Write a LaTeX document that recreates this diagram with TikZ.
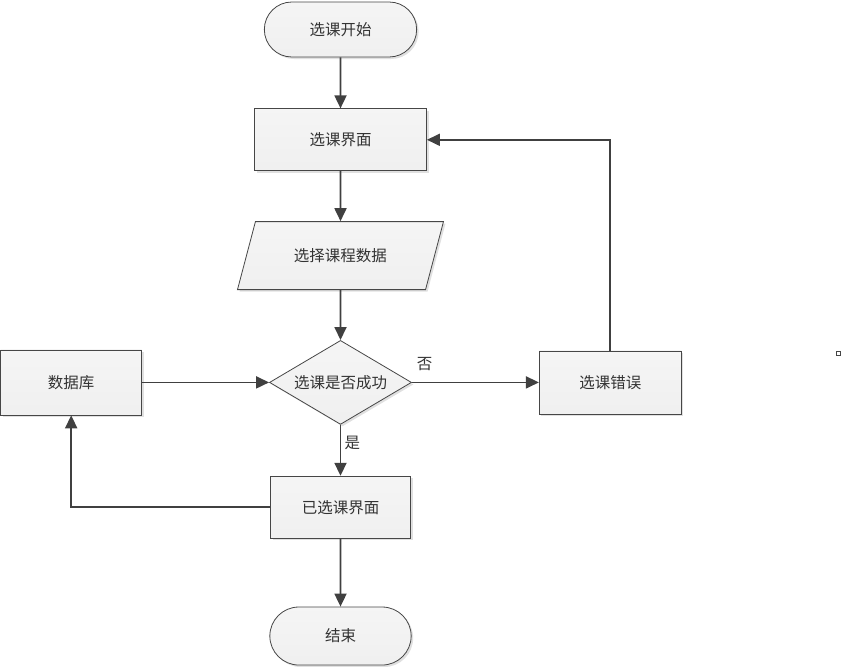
\documentclass[tikz,border=0pt]{standalone}
\usepackage{fontspec}
\setmainfont{Noto Sans CJK SC}
\usepackage{xcolor}
\usetikzlibrary{arrows.meta,positioning,shapes.geometric,shapes.misc,shadows}
\definecolor{inkgray}{RGB}{64,64,64}
\definecolor{edgegray}{RGB}{70,70,70}

\begin{document}
\begin{tikzpicture}[x=1pt,y=-1pt,>={Triangle[width=12pt,length=13pt]},
  every node/.style={font=\fontsize{15.5}{18}\selectfont,text=black!80},
  shaded/.style={draw=edgegray,line width=0.8pt,top color=black!4,middle color=white,
    bottom color=black!6,drop shadow={shadow xshift=2pt,shadow yshift=-2pt,fill=black!12,opacity=1}},
  term/.style={shaded,rounded rectangle,minimum width=159pt,minimum height=55pt},
  box/.style={shaded,rectangle,minimum width=#1,minimum height=62pt},
  iobox/.style={shaded,trapezium,trapezium left angle=63.4,trapezium right angle=116.6,
    trapezium stretches=true,minimum width=206pt,minimum height=68pt},
  decide/.style={shaded,diamond,inner sep=0pt,shape aspect=1.7,minimum width=142pt,minimum height=84pt},
  flow/.style={->,draw=inkgray,line width=1.8pt}]
  \useasboundingbox (0,0) rectangle (844,667);

  \node[term] (start) at (340.5,29.5) {选课开始};
  \node[box=172pt,below=51pt of start] (ui) {选课界面};
  \node[iobox,below=50pt of ui] (pick) {选择课程数据};
  \node[decide,below=50pt of pick] (check) {选课是否成功};
  \node[box=140pt,below=51pt of check] (done) {已选课界面};
  \node[term,minimum width=148pt,minimum height=58pt,below=68pt of done] (finish) {结束};
  \node[box=141pt,minimum height=65pt,left=127pt of check] (db) {数据库};
  \node[box=142pt,minimum height=63pt,right=127pt of check] (err) {选课错误};

  \draw[flow] (start) -- (ui);
  \draw[flow] (ui) -- (pick);
  \draw[flow] (pick) -- (check);
  \draw[flow] (db) -- (check);
  \draw[flow] (check) -- node[pos=0.1,above=7pt]{否} (err);
  \draw[flow] (check) -- node[pos=0.35,right=0pt]{是} (done);
  \draw[flow] (err.north) |- (ui.east);
  \draw[flow] (done.west) -| (db.south);
  \draw[flow] (done) -- (finish);

  % stray mark at the right edge
  \draw[edgegray,line width=0.8pt] (836,351) rectangle (840,355);
\end{tikzpicture}
\end{document}
